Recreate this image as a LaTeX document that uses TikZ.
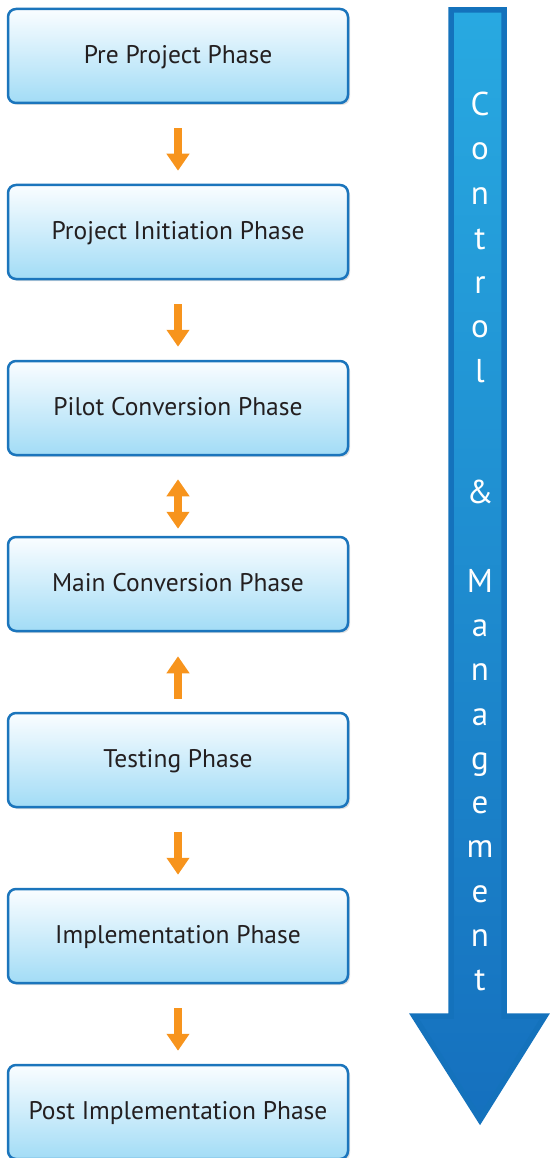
\documentclass[tikz,border=0pt]{standalone}
\usepackage{fontspec}
\setmainfont{PT Sans}
\usetikzlibrary{arrows.meta,shadows}

\definecolor{boxline}{HTML}{1B75BC}
\definecolor{boxtop}{HTML}{FAFDFF}
\definecolor{boxbottom}{HTML}{A2DCF6}
\definecolor{flowcolor}{HTML}{F7941D}
\definecolor{ctrltop}{HTML}{28A9E1}
\definecolor{ctrlbottom}{HTML}{1570BE}
\definecolor{ctrlline}{HTML}{1472BC}
\definecolor{phasetext}{HTML}{231F20}

\tikzset{
  phase/.style={draw=boxline, line width=2.5pt, rounded corners=8pt,
    top color=boxtop, bottom color=boxbottom,
    minimum width=340pt, minimum height=94pt, inner sep=0pt,
    text height=20pt, text depth=5pt,
    text=phasetext, font=\fontsize{25.5}{30}\selectfont,
    drop shadow={opacity=0.25, shadow xshift=2pt, shadow yshift=-2pt}},
  flow/.style={-{Triangle[width=22pt,length=17pt]}, line width=8pt,
    draw=flowcolor, shorten <=24pt, shorten >=13pt},
  bigarrow/.style={draw=ctrlline, line width=5.5pt, line join=miter,
    top color=ctrltop, bottom color=ctrlbottom},
  ctrl/.style={text=white, inner sep=0pt, anchor=base,
    font=\fontsize{33}{40}\selectfont}
}

\begin{document}
\begin{tikzpicture}[x=1pt,y=-1pt]
\useasboundingbox (0,0) rectangle (550,1158);
% control & management arrow
\shadedraw [bigarrow] (451,10) -- (504,10) -- (504,1016) -- (545,1016)
  -- (480,1120) -- (414,1016) -- (451,1016) -- cycle;
\foreach \ch/\yy in {C/116,o/160,n/205,t/249,r/293,o/337,l/382,\&/503,
  M/592,a/636,n/680,a/725,g/769,e/813,m/857,e/902,n/946,t/990}
  \node (ctrl-\yy) [ctrl] at (480,\yy) {\ch};
% phases
\node (pre) [phase] at (178,56) {Pre Project Phase};
\node (init) [phase] at (178,232) {Project Initiation Phase};
\node (pilot) [phase] at (178,408) {Pilot Conversion Phase};
\node (main) [phase] at (178,584) {Main Conversion Phase};
\node (testing) [phase] at (178,760) {Testing Phase};
\node (impl) [phase] at (178,936) {Implementation Phase};
\node (post) [phase] at (178,1112) {Post Implementation Phase};
\draw [flow] (pre) -- (init);
\draw [flow] (init) -- (pilot);
\draw [flow, {Triangle[width=22pt,length=17pt]}-{Triangle[width=22pt,length=17pt]},
  shorten <=23pt, shorten >=7pt] (pilot) -- (main);
\draw [flow, shorten <=13pt, shorten >=24pt] (testing) -- (main);
\draw [flow] (testing) -- (impl);
\draw [flow] (impl) -- (post);
\end{tikzpicture}
\end{document}
